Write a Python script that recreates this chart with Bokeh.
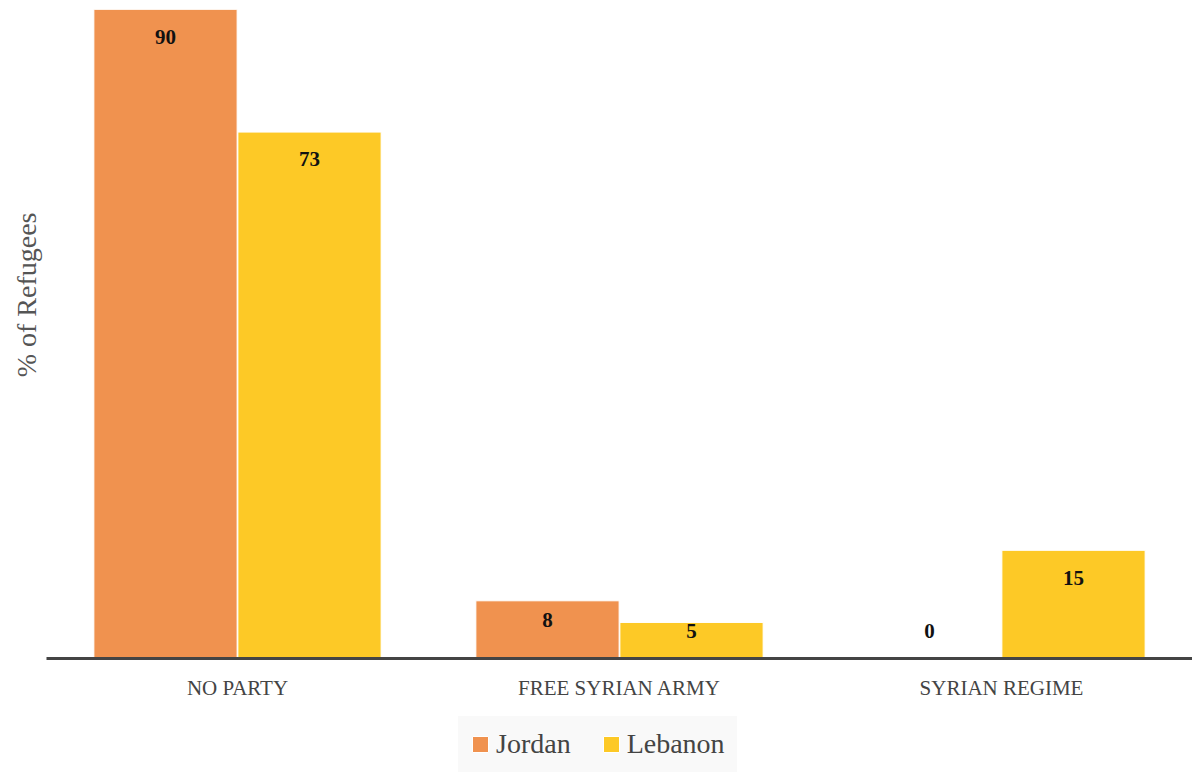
import numpy as np
from bokeh.plotting import figure
from bokeh.layouts import column
from bokeh.models import ColumnDataSource, FactorRange, Range1d, Legend, LegendItem, Title
from bokeh.transform import dodge
from bokeh.core.properties import value
from bokeh.embed import file_html
from bokeh.resources import INLINE

categories = ["NO PARTY", "FREE SYRIAN ARMY", "SYRIAN REGIME"]
jordan = [90, 8, 0]
lebanon = [73, 5, 15]
series_names = ["Jordan", "Lebanon"]
colors = ["#F0924F", "#FDC926"]
y_title = "% of Refugees"

FONT = "Liberation Serif"


def label_pos(v):
    v = np.asarray(v, dtype=float)
    return np.maximum.reduce([v - 3.8, 0.66 * v, np.full_like(v, 3.8)])


j = np.array(jordan, dtype=float)
l = np.array(lebanon, dtype=float)
src = ColumnDataSource(dict(
    cat=categories,
    jordan=j,
    lebanon=l,
    jordan_lbl=[str(v) for v in jordan],
    lebanon_lbl=[str(v) for v in lebanon],
    jordan_y=label_pos(j),
    lebanon_y=label_pos(l),
))

p = figure(
    x_range=FactorRange(*categories),
    y_range=Range1d(0, 90),
    width=1192, height=714,
    output_backend="svg", toolbar_location=None,
    min_border_left=46, min_border_right=0, min_border_top=9, min_border_bottom=56,
)
p.outline_line_color = None
p.xgrid.grid_line_color = None
p.ygrid.grid_line_color = None

off = 0.1885
bw = 0.375
r1 = p.vbar(x=dodge("cat", -off, range=p.x_range), top="jordan", width=bw, source=src,
            fill_color=colors[0], line_color="white", line_width=1)
r2 = p.vbar(x=dodge("cat", off, range=p.x_range), top="lebanon", width=bw, source=src,
            fill_color=colors[1], line_color="white", line_width=1)

for col, lbl, xoff in [("jordan_y", "jordan_lbl", -off), ("lebanon_y", "lebanon_lbl", off)]:
    p.text(x=dodge("cat", xoff, range=p.x_range), y=col, text=lbl, source=src,
           text_align="center", text_baseline="middle",
           text_font=value(FONT), text_font_style="bold", text_font_size="21px",
           text_color="#111111")

# x axis
p.xaxis.axis_line_color = "#444444"
p.xaxis.axis_line_width = 3
p.xaxis.major_tick_line_color = None
p.xaxis.minor_tick_line_color = None
p.xaxis.major_label_text_font = FONT
p.xaxis.major_label_text_font_size = "21px"
p.xaxis.major_label_text_color = "#444444"
p.xaxis.major_label_standoff = 11

# y axis: hidden; its title drawn as a side title
p.yaxis.visible = False
ttl = Title(text=y_title, align="right", offset=203, standoff=10,
            text_font=FONT, text_font_size="28px", text_font_style="normal",
            text_color="#555555")
p.add_layout(ttl, "left")

# legend in its own strip below the chart
lf = figure(width=1192, height=60, output_backend="svg", toolbar_location=None,
            x_range=Range1d(0, 1), y_range=Range1d(0, 1),
            min_border_left=0, min_border_right=0, min_border_top=0, min_border_bottom=0)
lf.axis.visible = False
lf.grid.grid_line_color = None
lf.outline_line_color = None
dummy = ColumnDataSource(dict(x=[-5.0], top=[0.0]))
d1 = lf.vbar(x="x", top="top", width=0.1, source=dummy, fill_color=colors[0], line_color="white")
d2 = lf.vbar(x="x", top="top", width=0.1, source=dummy, fill_color=colors[1], line_color="white")

legend = Legend(
    items=[LegendItem(label=series_names[0], renderers=[d1]),
           LegendItem(label=series_names[1], renderers=[d2])],
    orientation="horizontal", location=(412, 2),
    background_fill_color="#F9F9F9", background_fill_alpha=1.0,
    border_line_color="#F9F9F9", border_line_width=1,
    label_text_font=FONT, label_text_font_size="28px", label_text_color="#444444",
    glyph_width=20, glyph_height=20, spacing=30, padding=11, margin=0,
    label_standoff=6, label_height=28,
)
lf.add_layout(legend, "center")

open("out.html", "w").write(file_html(column(p, lf, spacing=0), INLINE))
